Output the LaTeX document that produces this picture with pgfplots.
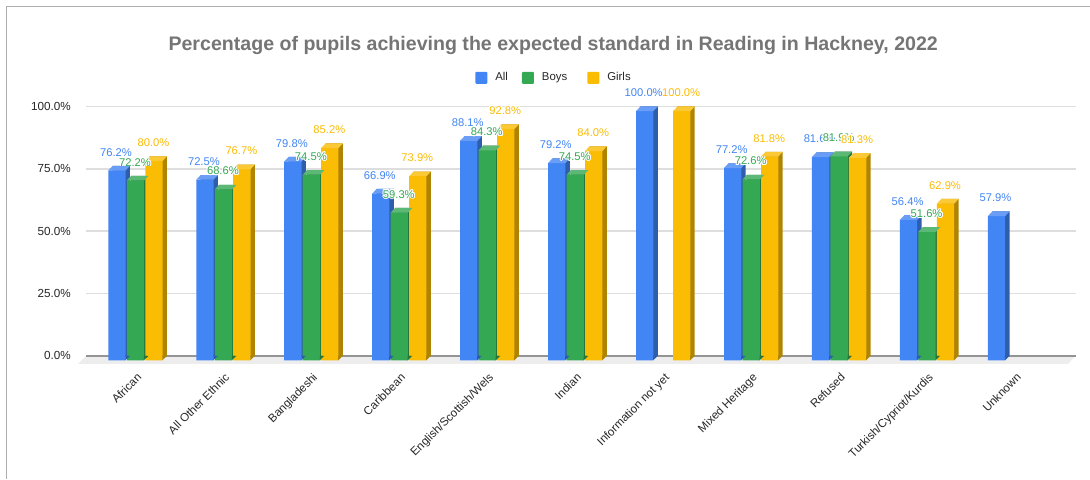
\documentclass[border=0pt]{standalone}
\usepackage{pgfplots}
\usepackage{pgfplotstable}
\usepackage{fontspec}
\usepackage[copies]{contour}
\pgfplotsset{compat=1.18}
\setmainfont{Liberation Sans}
\contourlength{0.9pt}
\contournumber{16}
\definecolor{cb}{HTML}{4285F4}\definecolor{cbd}{HTML}{2E5DAB}\definecolor{cbt}{HTML}{6A9DF6}
\definecolor{cg}{HTML}{34A853}\definecolor{cgd}{HTML}{24763A}\definecolor{cgt}{HTML}{5CB975}
\definecolor{cy}{HTML}{FBBC04}\definecolor{cyd}{HTML}{B08403}\definecolor{cyt}{HTML}{FCC936}
\pgfdeclareplotmark{bartop}{%
 \pgfpathmoveto{\pgfqpoint{-8.65pt}{-0.2pt}}\pgfpathlineto{\pgfqpoint{8.65pt}{-0.2pt}}%
 \pgfpathlineto{\pgfqpoint{13.05pt}{4.5pt}}\pgfpathlineto{\pgfqpoint{-4.25pt}{4.5pt}}%
 \pgfpathclose\pgfusepathqfill}
\pgfdeclareplotmark{barbase}{%
 \pgfpathmoveto{\pgfqpoint{8.4pt}{-4.5pt}}\pgfpathlineto{\pgfqpoint{13.05pt}{0pt}}%
 \pgfpathlineto{\pgfqpoint{8.4pt}{0.2pt}}%
 \pgfpathclose\pgfusepathqfill}
\pgfplotstableread{
x  all   boys  girls
0  76.2  72.2  80.0
1  72.5  68.6  76.7
2  79.8  74.5  85.2
3  66.9  59.3  73.9
4  88.1  84.3  92.8
5  79.2  74.5  84.0
6  100.0 nan   100.0
7  77.2  72.6  81.8
8  81.6  81.9  81.3
9  56.4  51.6  62.9
10 57.9  nan   nan
}\data
\pgfplotsset{
 sidebar/.style={ybar, bar width=17.3pt, bar shift=#1, draw=none, forget plot},
 frontbar/.style={ybar, bar width=17.3pt, bar shift=#1, draw=none, yshift=-4.5pt,
   legend image code/.code={\fill[##1,rounded corners=1pt] (0pt,-2pt) rectangle (12pt,10pt);}},
 topface/.style={only marks, mark=bartop, xshift=#1, yshift=-4.5pt, forget plot},
 baseface/.style={only marks, mark=barbase, xshift=#1, forget plot},
 vlabels/.style n args={2}{only marks, mark=none, forget plot, point meta=y,
   nodes near coords={\contour{white}{\pgfmathprintnumber[fixed,fixed zerofill,precision=1,assume math mode=true]{\pgfplotspointmeta}\%}},
   nodes near coords style={anchor=center, inner sep=0pt, xshift=#1, yshift=13.2pt, text=#2,
     font=\fontsize{11.2}{13}\selectfont}},
}
\begin{document}
\begin{tikzpicture}[x=1pt,y=1pt]
\path (0,0) rectangle (1090,479);
\draw[color=black!32, line width=1pt] (6.5,0) -- (6.5,472.5) -- (1090,472.5);
\fill[black!7] (78,115) -- (86,123) -- (1076,123) -- (1068.5,115) -- cycle;
\begin{axis}[
 at={(86pt,123pt)}, anchor=south west, scale only axis, width=990pt, height=249.5pt,
 xmin=-0.5625, xmax=10.6875, ymin=0, ymax=100, clip=false,
 axis line style={draw=none}, tick style={draw=none},
 ymajorgrids, grid style={color=black!13, line width=1.5pt},
 ytick={0,25,50,75,100},
 yticklabel={\pgfmathprintnumber[fixed,fixed zerofill,precision=1,assume math mode=true]{\tick}\%},
 yticklabel style={font=\fontsize{11.7}{13}\selectfont, text=black!85, anchor=east, inner sep=0pt, xshift=-15pt},
 xtick={0,1,2,3,4,5,6,7,8,9,10},
 xticklabels={African,All Other Ethnic,Bangladeshi,Caribbean,English/Scottish/Wels,Indian,Information not yet,Mixed Heritage,Refused,Turkish/Cypriot/Kurdis,Unknown},
 xticklabel style={font=\fontsize{11.6}{13}\selectfont, text=black!85, rotate=45, anchor=north east, inner sep=0pt, xshift=-11pt, yshift=-12pt},
 title={Percentage of pupils achieving the expected standard in Reading in Hackney, 2022},
 title style={at={(0.4722,1.2224)}, anchor=center, inner sep=0pt, text=black!54, font=\fontsize{19.6}{23}\bfseries\selectfont},
 legend columns=3,
 legend style={draw=none, fill=none, at={(0.3935,1.117)}, anchor=west, inner sep=0pt, outer sep=0pt,
   font=\fontsize{11.4}{13}\selectfont, text=black!85,
   /tikz/column 1/.style={column sep=6pt}, /tikz/column 2/.style={column sep=12pt},
   /tikz/column 3/.style={column sep=6pt}, /tikz/column 4/.style={column sep=18pt},
   /tikz/column 5/.style={column sep=6pt}},
]
\draw[color=black!42, line width=1.6pt] (axis cs:-0.5625,0) -- (axis cs:10.6875,0);
% blue
\addplot[sidebar=-14.1pt, fill=cbd] table[x=x,y=all] {\data};
\addplot[baseface=-18.5pt, mark options={fill=cbd,draw=none}] coordinates {(0,0)(1,0)(2,0)(3,0)(4,0)(5,0)(6,0)(7,0)(8,0)(9,0)(10,0)};
\addplot[frontbar=-18.5pt, fill=cb] table[x=x,y=all] {\data};
\addlegendentry{All}
\addplot[topface=-18.5pt, mark options={fill=cbt,draw=none}] table[x=x,y=all] {\data};
% green
\addplot[sidebar=4.4pt, fill=cgd] table[x=x,y=boys] {\data};
\addplot[baseface=0pt, mark options={fill=cgd,draw=none}] coordinates {(0,0)(1,0)(2,0)(3,0)(4,0)(5,0)(7,0)(8,0)(9,0)};
\addplot[frontbar=0pt, fill=cg] table[x=x,y=boys] {\data};
\addlegendentry{Boys}
\addplot[topface=0pt, mark options={fill=cgt,draw=none}] table[x=x,y=boys] {\data};
% yellow
\addplot[sidebar=22.9pt, fill=cyd] table[x=x,y=girls] {\data};
\addplot[baseface=18.5pt, mark options={fill=cyd,draw=none}] coordinates {(0,0)(1,0)(2,0)(3,0)(4,0)(5,0)(6,0)(7,0)(8,0)(9,0)};
\addplot[frontbar=18.5pt, fill=cy] table[x=x,y=girls] {\data};
\addlegendentry{Girls}
\addplot[topface=18.5pt, mark options={fill=cyt,draw=none}] table[x=x,y=girls] {\data};
% value labels
\addplot[vlabels={-19.5pt}{cb}] table[x=x,y=all] {\data};
\addplot[vlabels={-0.5pt}{cg}] table[x=x,y=boys] {\data};
\addplot[vlabels={18pt}{cy}] table[x=x,y=girls] {\data};
\end{axis}
\end{tikzpicture}
\end{document}
